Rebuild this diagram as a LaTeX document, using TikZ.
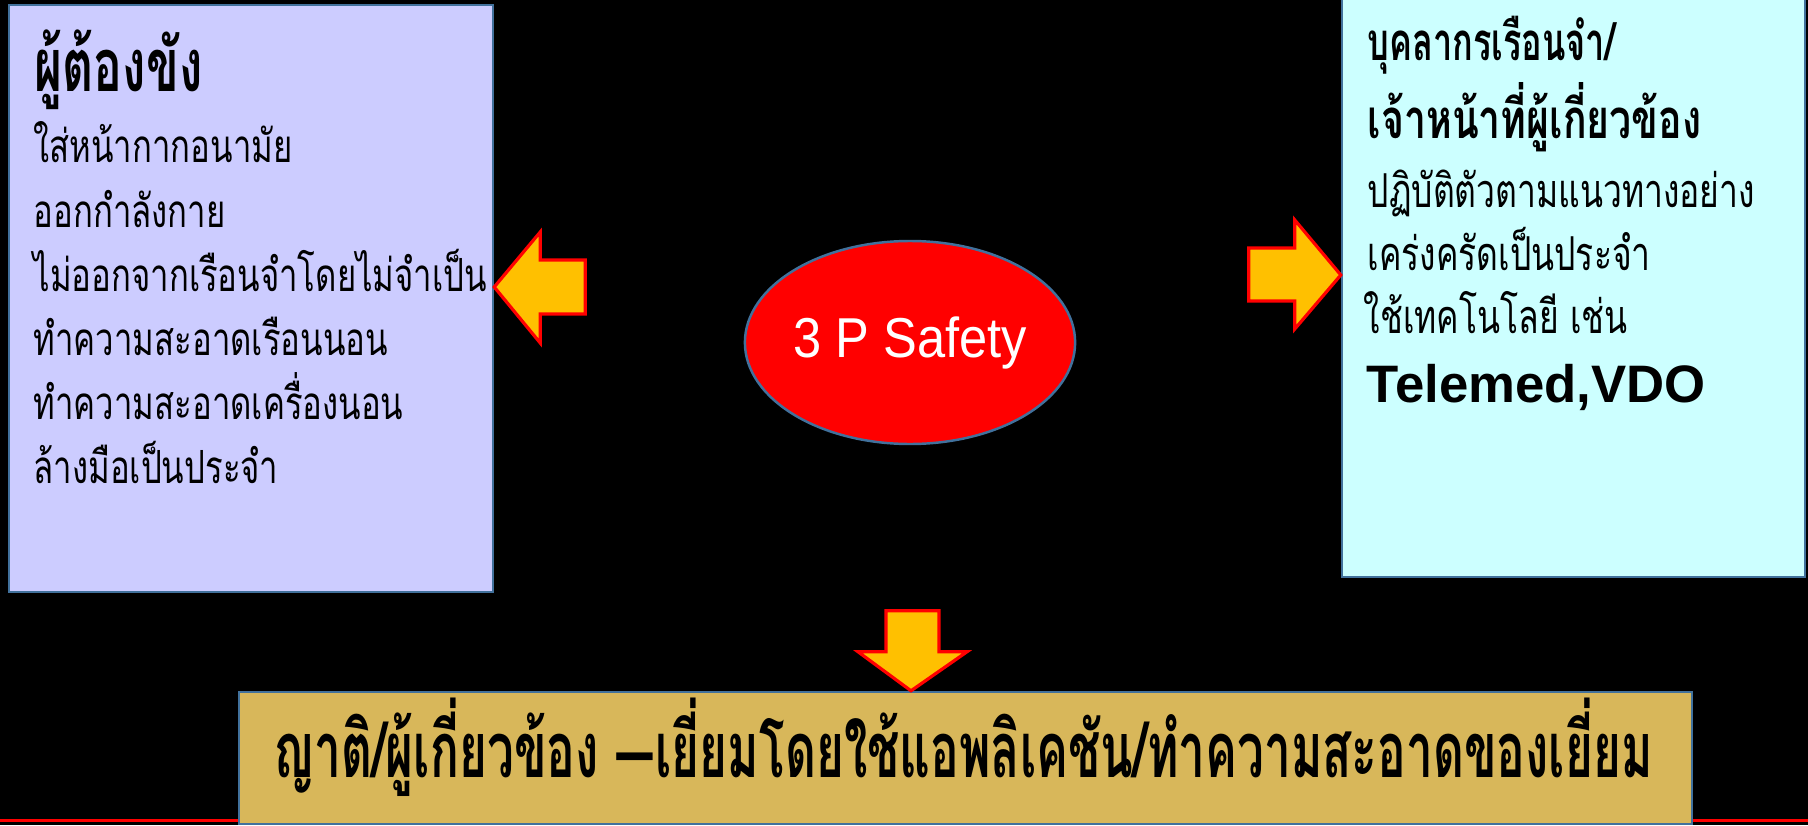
\documentclass[tikz,border=0pt]{standalone}
\usepackage{fontspec}
\setmainfont{Liberation Sans}
\newfontfamily\thaifont[Script=Thai, FakeStretch=0.72]{Loma}
\newfontfamily\thaihead[Script=Thai, FakeStretch=0.65]{Loma}
\newfontfamily\latinfont{Liberation Sans}
\usepackage{graphicx}
\usepackage{xcolor}
\usetikzlibrary{shapes.geometric,positioning,calc}

\definecolor{panelblue}{HTML}{41719C}
\definecolor{inmatefill}{HTML}{CCCCFF}
\definecolor{stafffill}{HTML}{CCFFFF}
\definecolor{relfill}{HTML}{D8B75A}
\definecolor{arrowgold}{HTML}{FFC000}

\begin{document}
\begin{tikzpicture}[
    box/.style={draw=panelblue, line width=0.7pt, rectangle, inner sep=0pt},
    blockarrow/.style={draw=red, fill=arrowgold, line width=0.9pt, line join=miter},
    thline/.style={anchor=base west, inner sep=0pt, font=\thaifont\fontsize{13}{15}\selectfont},
    thhead/.style={anchor=base west, inner sep=0pt, font=\thaihead\bfseries\fontsize{15}{17}\selectfont},
]
\clip (0,0) rectangle (18.08,8.25);
\fill[black] (0,0) rectangle (18.08,8.25);

% red base line
\draw[red, line width=1.1pt] (0,0.045) -- (18.08,0.045);

% Boxes
\node[box, fill=inmatefill, minimum width=4.84cm, minimum height=5.87cm] (inmates) at (2.51,5.265) {};
\node[box, fill=stafffill, minimum width=4.63cm, minimum height=5.87cm] (staff) at (15.735,5.415) {};
\node[box, fill=relfill, minimum width=14.53cm, minimum height=1.32cm] (relatives) at (9.655,0.67) {};

% Centre
\node[ellipse, draw=panelblue, line width=0.7pt, fill=red, minimum width=2.94cm, minimum height=2.03cm, inner sep=0pt,
      text=white, font=\fontsize{16}{18}\selectfont] (core) at (9.10,4.825) {\scalebox{0.9}[1]{3 P Safety}};

% Arrows
\coordinate (ltip) at (inmates.east |- 0,5.38);
\coordinate (rtip) at (staff.west |- 0,5.50);
\coordinate (dtip) at (relatives.north -| 9.11,0);
\draw[blockarrow] (ltip) -- ++(0.46,0.55) -- ++(0,-0.28) -- ++(0.45,0) -- ++(0,-0.54) -- ++(-0.45,0) -- ++(0,-0.29) -- cycle;
\draw[blockarrow] (rtip) -- ++(-0.46,0.55) -- ++(0,-0.28) -- ++(-0.46,0) -- ++(0,-0.53) -- ++(0.46,0) -- ++(0,-0.28) -- cycle;
\draw[blockarrow] (dtip) -- ++(-0.53,0.39) -- ++(0.28,0) -- ++(0,0.41) -- ++(0.53,0) -- ++(0,-0.41) -- ++(0.28,0) -- cycle;

% Inmates
\node[thhead, font=\thaihead\bfseries\fontsize{21}{23}\selectfont] (inmatetitle) at (0.34,7.33) {ผู้ต้องขัง};
\foreach \txt [count=\i] in {ใส่หน้ากากอนามัย, ออกกำลังกาย, ไม่ออกจากเรือนจำโดยไม่จำเป็น, ทำความสะอาดเรือนนอน, ทำความสะอาดเครื่องนอน, ล้างมือเป็นประจำ}
    \node[thline] (care\i) at (0.33,{7.26-0.64*\i}) {\txt};

% Staff
\node[thhead] (stafftitle1) at (13.67,7.64) {บุคลากรเรือนจำ/};
\node[thhead, font=\thaifont\bfseries\fontsize{15.5}{17}\selectfont] (stafftitle2) at (13.67,6.87) {เจ้าหน้าที่ผู้เกี่ยวข้อง};
\node[thline, font=\thaifont\fontsize{13.3}{15}\selectfont] (duty1) at (13.67,6.18) {ปฏิบัติตัวตามแนวทางอย่าง};
\node[thline, font=\thaifont\fontsize{13.3}{15}\selectfont] (duty2) at (13.67,5.55) {เคร่งครัดเป็นประจำ};
\node[thline, font=\thaifont\fontsize{13.3}{15}\selectfont] (duty3) at (13.63,4.92) {ใช้เทคโนโลยี เช่น};
\node[anchor=base west, inner sep=0pt, font=\bfseries\fontsize{15}{17}\selectfont] (tech) at (13.66,4.23) {Telemed,VDO};

% Relatives
\node[anchor=base, inner sep=0pt, font=\thaihead\bfseries\fontsize{22}{24}\selectfont] (visit) at (9.63,0.48)
    {\resizebox{13.79cm}{\height}{ญาติ/ผู้เกี่ยวข้อง {\latinfont –}เยี่ยมโดยใช้แอพลิเคชัน/ทำความสะอาดของเยี่ยม}};

\end{tikzpicture}
\end{document}
